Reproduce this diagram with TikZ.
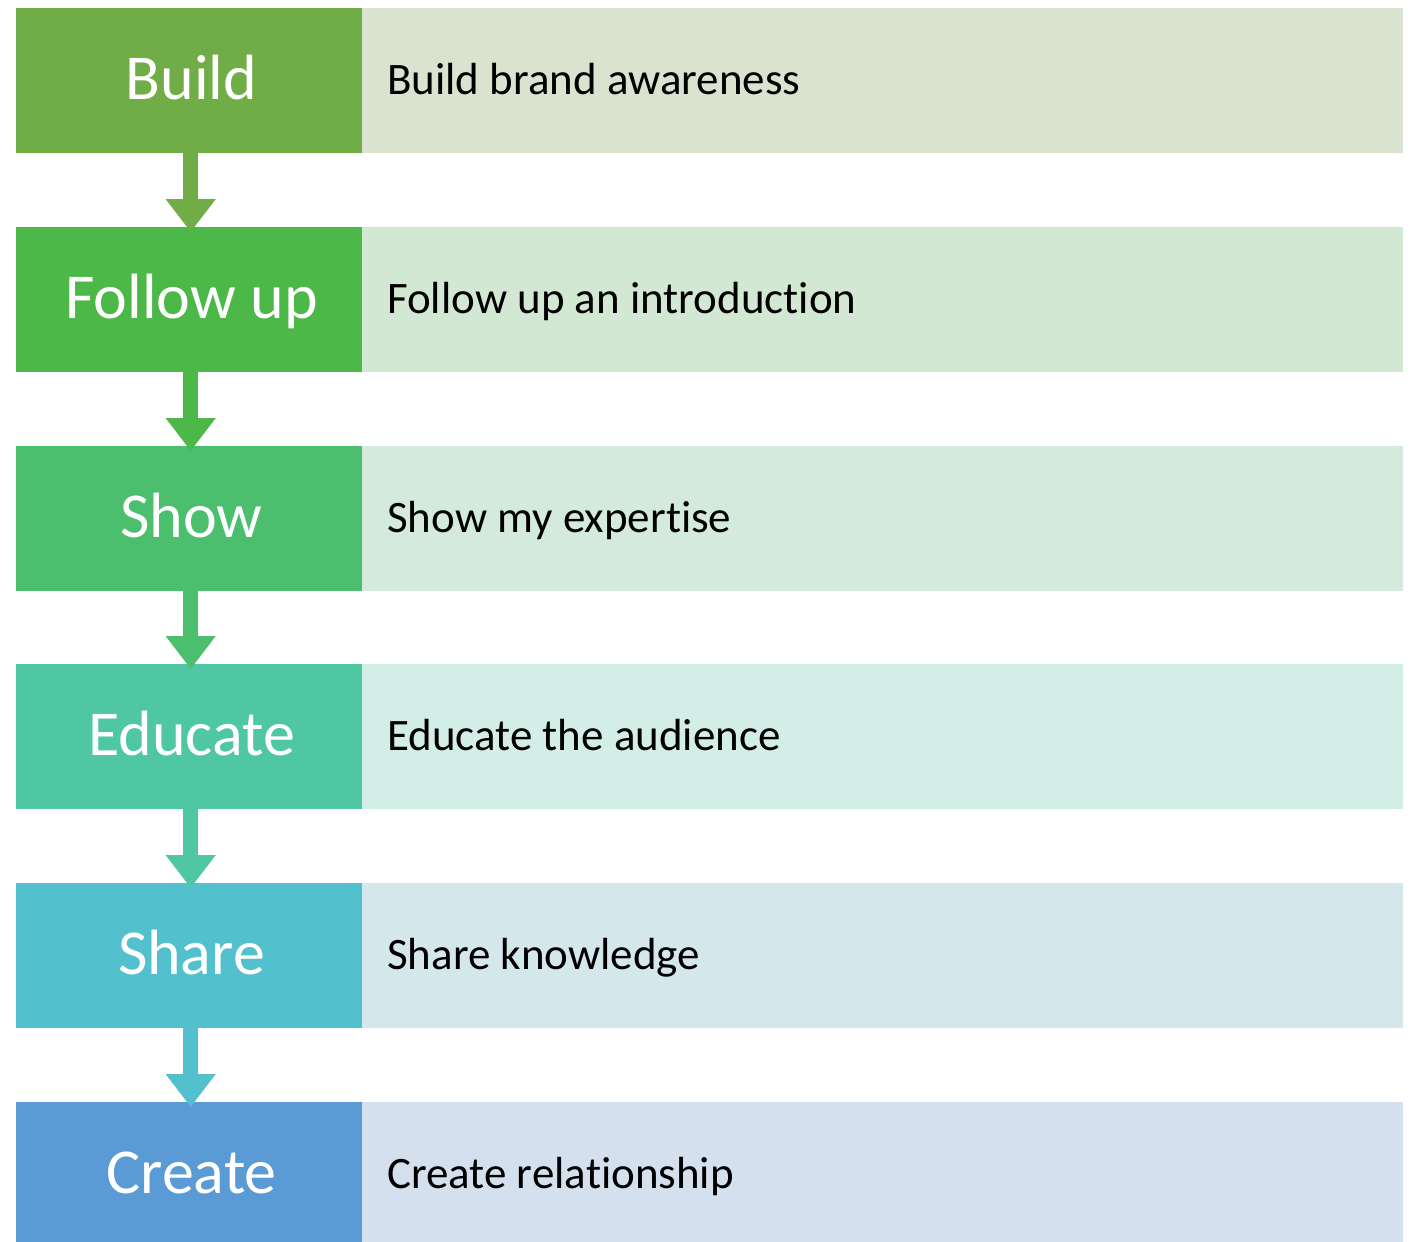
\documentclass[tikz,border=0pt]{standalone}
\usepackage{fontspec}
\setmainfont{Carlito}[Ligatures={NoCommon,NoRequired,NoContextual}]
\usetikzlibrary{arrows.meta,positioning}
\definecolor{lA}{HTML}{70AD47}\definecolor{rA}{HTML}{D9E3D0}
\definecolor{lB}{HTML}{4CB848}\definecolor{rB}{HTML}{D3E8D3}
\definecolor{lC}{HTML}{4BBF6E}\definecolor{rC}{HTML}{D3EADC}
\definecolor{lD}{HTML}{4FC7A3}\definecolor{rD}{HTML}{D3EDE7}
\definecolor{lE}{HTML}{53C1CD}\definecolor{rE}{HTML}{D4E8EC}
\definecolor{lF}{HTML}{5B9BD5}\definecolor{rF}{HTML}{D4E0EE}
\tikzset{
  x=1pt,y=-1pt,
  lbox/.style={rectangle,inner sep=0pt,minimum width=346pt,minimum height=145pt,anchor=north west,fill=#1},
  rbox/.style={rectangle,inner sep=0pt,minimum width=1041pt,minimum height=145pt,anchor=north west,fill=#1},
  ltext/.style={text=white,font=\fontsize{64}{70}\selectfont,anchor=base,inner sep=0pt},
  rtext/.style={text=black,font=\fontsize{45}{50}\selectfont,anchor=base west,inner sep=0pt},
  flow/.style={line width=15pt,draw=#1,-{Triangle[width=48pt,length=33pt]},shorten >=-5pt}
}
\begin{document}
\begin{tikzpicture}
\useasboundingbox (0,0) rectangle (1416,1242);
\clip (0,0) rectangle (1416,1242);
\foreach \i/\y/\lc/\rc/\lt/\rt in {
  1/8/lA/rA/Build/Build brand awareness,
  2/227/lB/rB/Follow up/Follow up an introduction,
  3/446/lC/rC/Show/Show my expertise,
  4/664/lD/rD/Educate/Educate the audience,
  5/883/lE/rE/Share/Share knowledge,
  6/1102/lF/rF/Create/Create relationship}{
  \node[lbox=\lc] (L\i) at (16,\y) {};
  \node[rbox=\rc] (R\i) at (362,\y) {};
  \node[ltext] (LT\i) at (191.5,\y+91) {\lt};
  \node[rtext] (RT\i) at (387,\y+86) {\rt};
}
\draw[flow=lA] ([xshift=1.5pt]L1.south) -- ([xshift=1.5pt]L2.north);
\draw[flow=lB] ([xshift=1.5pt]L2.south) -- ([xshift=1.5pt]L3.north);
\draw[flow=lC] ([xshift=1.5pt]L3.south) -- ([xshift=1.5pt]L4.north);
\draw[flow=lD] ([xshift=1.5pt]L4.south) -- ([xshift=1.5pt]L5.north);
\draw[flow=lE] ([xshift=1.5pt]L5.south) -- ([xshift=1.5pt]L6.north);
\end{tikzpicture}
\end{document}
